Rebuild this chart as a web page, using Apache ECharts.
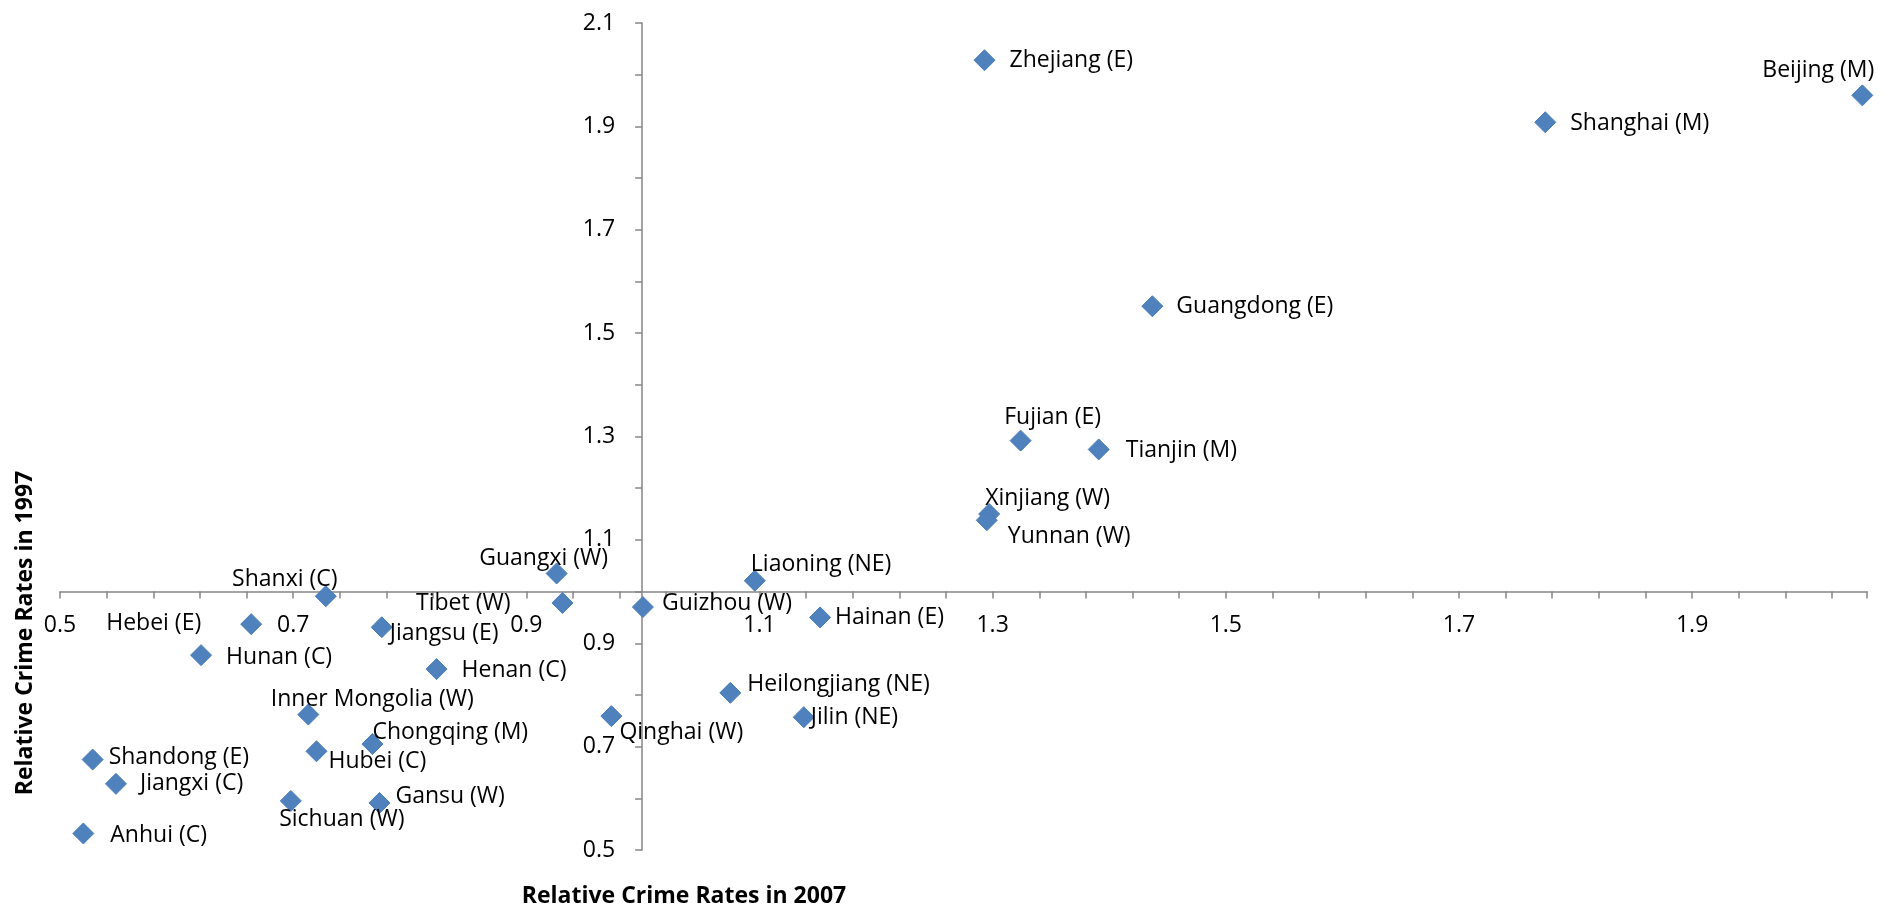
<!DOCTYPE html>
<html>
<head>
<meta charset="utf-8">
<script src="https://cdn.jsdelivr.net/npm/echarts@6/dist/echarts.min.js"></script>
<style>
  html, body { margin: 0; padding: 0; background: #fff; }
  #chart { width: 1901px; height: 910px; }
</style>
</head>
<body>
<div id="chart"></div>
<script>
const provinces = [
  'Zhejiang (E)', 'Beijing (M)', 'Shanghai (M)', 'Guangdong (E)', 'Fujian (E)',
  'Tianjin (M)', 'Xinjiang (W)', 'Yunnan (W)', 'Liaoning (NE)', 'Guangxi (W)',
  'Shanxi (C)', 'Tibet (W)', 'Guizhou (W)', 'Hebei (E)', 'Jiangsu (E)',
  'Hainan (E)', 'Hunan (C)', 'Henan (C)', 'Heilongjiang (NE)', 'Inner Mongolia (W)',
  'Qinghai (W)', 'Jilin (NE)', 'Chongqing (M)', 'Hubei (C)', 'Shandong (E)',
  'Jiangxi (C)', 'Sichuan (W)', 'Gansu (W)', 'Anhui (C)'
];
const rate2007 = [
  1.293, 2.046, 1.774, 1.437, 1.324,
  1.391, 1.297, 1.295, 1.096, 0.926,
  0.728, 0.931, 1.000, 0.664, 0.776,
  1.152, 0.621, 0.823, 1.075, 0.713,
  0.973, 1.138, 0.768, 0.720, 0.528,
  0.548, 0.698, 0.774, 0.520
];
const rate1997 = [
  2.028, 1.960, 1.908, 1.552, 1.292,
  1.275, 1.150, 1.138, 1.021, 1.035,
  0.991, 0.978, 0.970, 0.937, 0.931,
  0.950, 0.877, 0.850, 0.804, 0.762,
  0.759, 0.757, 0.705, 0.691, 0.675,
  0.628, 0.595, 0.591, 0.532
];
const xTicks = [0.5, 2.05, 0.2];
const yTicks = [0.5, 2.1, 0.2];

// label placement: [align, dx, dy] from the marker centre
const labelLayout = {
  'Zhejiang (E)': ['left', 25, 0], 'Beijing (M)': ['right', 12, -25],
  'Shanghai (M)': ['left', 25, 1], 'Guangdong (E)': ['left', 24, 0],
  'Fujian (E)': ['center', 32, -23], 'Tianjin (M)': ['left', 27, 1],
  'Xinjiang (W)': ['left', -4, -16], 'Yunnan (W)': ['left', 21, 16],
  'Liaoning (NE)': ['left', -4, -16], 'Guangxi (W)': ['center', -13, -15],
  'Shanxi (C)': ['center', -41, -17], 'Tibet (W)': ['right', -52, 1],
  'Guizhou (W)': ['left', 19, -4], 'Hebei (E)': ['right', -50, -1],
  'Jiangsu (E)': ['left', 8, 6], 'Hainan (E)': ['left', 15, 0],
  'Hunan (C)': ['left', 25, 2], 'Henan (C)': ['left', 25, 1],
  'Heilongjiang (NE)': ['left', 17, -8], 'Inner Mongolia (W)': ['center', 64, -15],
  'Qinghai (W)': ['left', 8, 16], 'Jilin (NE)': ['left', 7, 0],
  'Chongqing (M)': ['left', 0, -12], 'Hubei (C)': ['left', 12, 10],
  'Shandong (E)': ['left', 16, -2], 'Jiangxi (C)': ['left', 24, 0],
  'Sichuan (W)': ['center', 51, 19], 'Gansu (W)': ['left', 16, -7],
  'Anhui (C)': ['left', 27, 2]
};

const font = '"Open Sans", sans-serif';
const axisColor = '#868686';

const points = provinces.map((name, i) => {
  const lay = labelLayout[name] || ['left', 20, 0];
  return {
    name: name,
    value: [rate2007[i], rate1997[i]],
    label: { align: lay[0], offset: [lay[1], lay[2]] }
  };
});

const chart = echarts.init(document.getElementById('chart'));

const option = {
  animation: false,
  backgroundColor: '#fff',
  grid: { left: 60, right: 34, top: 23, bottom: 60 },
  xAxis: {
    type: 'value',
    min: xTicks[0],
    max: xTicks[1],
    interval: xTicks[2],
    splitLine: { show: false },
    axisLine: { onZero: false, lineStyle: { color: axisColor, width: 1.5 } },
    axisTick: { length: 7, lineStyle: { color: axisColor, width: 1.5 } },
    minorTick: { show: true, splitNumber: 5, length: 7, lineStyle: { color: axisColor, width: 1.5 } },
    axisLabel: {
      color: '#000', fontFamily: font, fontSize: 23, margin: 22,
      showMaxLabel: false,
      formatter: (v) => v.toFixed(1)
    }
  },
  yAxis: {
    type: 'value',
    min: yTicks[0],
    max: yTicks[1],
    interval: yTicks[2],
    splitLine: { show: false },
    axisLine: { onZero: false, lineStyle: { color: axisColor, width: 1.5 } },
    axisTick: { length: 7, lineStyle: { color: axisColor, width: 1.5 } },
    minorTick: { show: true, splitNumber: 2, length: 7, lineStyle: { color: axisColor, width: 1.5 } },
    axisLabel: {
      color: '#000', fontFamily: font, fontSize: 23, margin: 27,
      formatter: (v) => v.toFixed(1)
    }
  },
  graphic: [
    {
      type: 'text', x: 684, y: 896, z: 10,
      style: {
        text: 'Relative Crime Rates in 2007', font: 'bold 23px ' + font,
        fill: '#000', align: 'center', verticalAlign: 'middle'
      }
    },
    {
      type: 'text', x: 25, y: 633, rotation: Math.PI / 2, z: 10,
      style: {
        text: 'Relative Crime Rates in 1997', font: 'bold 23px ' + font,
        fill: '#000', align: 'center', verticalAlign: 'middle'
      }
    }
  ],
  series: [
    {
      type: 'scatter',
      symbol: 'diamond',
      symbolSize: 21,
      itemStyle: { color: '#4F81BD', borderColor: '#4A7EBB', borderWidth: 1, opacity: 1 },
      label: {
        show: true,
        position: 'inside',
        verticalAlign: 'middle',
        formatter: (p) => p.name,
        color: '#000',
        fontFamily: font,
        fontSize: 23
      },
      data: points
    }
  ]
};

chart.setOption(option);

// axes cross at (1, 1) like the original
const origin = chart.convertToPixel({ gridIndex: 0 }, [xTicks[0], yTicks[0]]);
const cross = chart.convertToPixel({ gridIndex: 0 }, [1, 1]);
chart.setOption({
  xAxis: { offset: -(origin[1] - cross[1]) },
  yAxis: { offset: -(cross[0] - origin[0]) }
});
</script>
</body>
</html>
